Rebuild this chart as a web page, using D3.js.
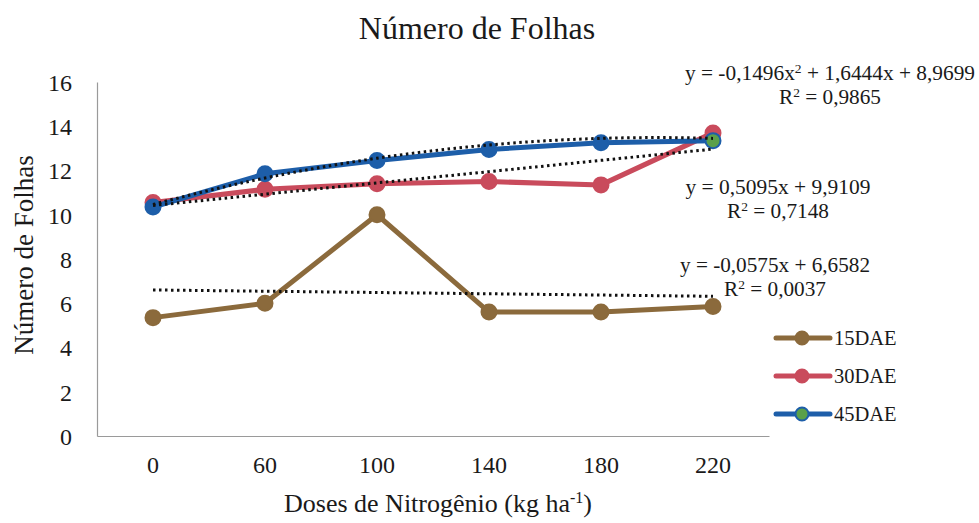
<!DOCTYPE html>
<html>
<head>
<meta charset="utf-8">
<script src="https://cdn.jsdelivr.net/npm/d3@7"></script>
<style>
  body { margin: 0; background: #fff; }
  svg text { font-family: "Liberation Serif", "DejaVu Serif", serif; fill: #1a1a1a; }
</style>
</head>
<body>
<svg width="979" height="523"></svg>
<script>
// doses (categories)
const doses = ['0', '60', '100', '140', '180', '220'];
const yTicks = [0, 2, 4, 6, 8, 10, 12, 14, 16];

// leaf counts
const dae15 = [5.35, 6.0, 10.0, 5.6, 5.6, 5.85];
const dae30 = [10.55, 11.15, 11.4, 11.5, 11.35, 13.7];
const dae45 = [10.35, 11.85, 12.45, 12.95, 13.25, 13.35];

// trendline coefficients (x = 1..6), [a2, a1, a0]
const trend15 = [0, -0.0575, 6.6582];
const trend30 = [0, 0.5095, 9.9109];
const trend45 = [-0.1496, 1.6444, 8.9699];

const WIDTH = 979, HEIGHT = 523;
const plotLeft = 97, plotRight = 769, plotTop = 82, plotBottom = 436;

const svg = d3.select('svg');

const xScale = d3.scaleBand().domain(doses).range([plotLeft, plotRight]);
const yScale = d3.scaleLinear().domain([0, 16]).range([plotBottom, plotTop]);
const xPos = function (d) { return xScale(d) + xScale.bandwidth() / 2; };

// axes
const bottomAxis = d3.axisBottom(xScale).tickSize(0).tickPadding(20);
const gx = svg.append('g').attr('transform', 'translate(0,' + plotBottom + ')').call(bottomAxis);
gx.select('.domain').attr('stroke', '#9a9a9a').attr('stroke-width', 1.2);
gx.selectAll('text').style('font-size', '24px').style('font-family', '"Liberation Serif", serif').attr('fill', '#1a1a1a');

const leftAxis = d3.axisLeft(yScale).tickValues(yTicks).tickSize(0).tickPadding(25);
const gy = svg.append('g').attr('transform', 'translate(' + plotLeft + ',0)').call(leftAxis);
gy.select('.domain').attr('stroke', '#9a9a9a').attr('stroke-width', 1.2);
gy.selectAll('text').style('font-size', '24px').style('font-family', '"Liberation Serif", serif').attr('fill', '#1a1a1a')
  .attr('dy', '0.35em');

// title + axis titles
svg.append('text').attr('x', 477).attr('y', 39).attr('text-anchor', 'middle')
  .style('font-size', '32px').text('Número de Folhas');

svg.append('text').attr('transform', 'translate(33,' + 255 + ') rotate(-90)')
  .attr('text-anchor', 'middle').style('font-size', '27px').text('Número de Folhas');

const xt = svg.append('text').attr('x', 438).attr('y', 512).attr('text-anchor', 'middle')
  .style('font-size', '26px');
xt.append('tspan').text('Doses de Nitrogênio (kg ha');
xt.append('tspan').attr('dy', -9).style('font-size', '16px').text('-1');
xt.append('tspan').attr('dy', 9).text(')');

// series
const series = [
  { name: '15DAE', values: dae15, color: '#8b6a3c', fill: '#8b6a3c', trend: trend15 },
  { name: '30DAE', values: dae30, color: '#c94b5c', fill: '#c94b5c', trend: trend30 },
  { name: '45DAE', values: dae45, color: '#1d5ea9', fill: '#1d5ea9', trend: trend45 }
];

const line = d3.line()
  .x(function (d, i) { return xPos(doses[i]); })
  .y(function (d) { return yScale(d); });

series.forEach(function (s) {
  svg.append('path').datum(s.values)
    .attr('d', line).attr('fill', 'none')
    .attr('stroke', s.color).attr('stroke-width', 5).attr('stroke-linejoin', 'round');
  svg.selectAll(null).data(s.values).enter().append('circle')
    .attr('cx', function (d, i) { return xPos(doses[i]); })
    .attr('cy', function (d) { return yScale(d); })
    .attr('r', 7.5)
    .attr('fill', function (d, i) { return (s.name === '45DAE' && i === 5) ? '#5aa04a' : s.fill; })
    .attr('stroke', s.color).attr('stroke-width', 2);
});

// trendlines (dotted)
const xNum = d3.scaleLinear().domain([1, 6]).range([xPos(doses[0]), xPos(doses[5])]);
const trendLine = d3.line().x(function (d) { return xNum(d[0]); }).y(function (d) { return yScale(d[1]); });
series.forEach(function (s) {
  const pts = d3.range(1, 6.01, 0.1).map(function (x) {
    return [x, s.trend[0] * x * x + s.trend[1] * x + s.trend[2]];
  });
  svg.append('path').datum(pts).attr('d', trendLine).attr('fill', 'none')
    .attr('stroke', '#111').attr('stroke-width', 3).attr('stroke-dasharray', '2.5,3.5');
});

// equations
const eqs = [
  { x: 830, y: 80, len: [290, 102], lines: [['y = -0,1496x', '2', ' + 1,6444x + 8,9699'], ['R', '2', ' = 0,9865']] },
  { x: 778, y: 194, len: [185, 102], lines: [['y = 0,5095x + 9,9109'], ['R', '2', ' = 0,7148']] },
  { x: 775, y: 272, len: [190, 102], lines: [['y = -0,0575x + 6,6582'], ['R', '2', ' = 0,0037']] }
];
eqs.forEach(function (e) {
  e.lines.forEach(function (parts, k) {
    const t = svg.append('text').attr('x', e.x).attr('y', e.y + k * 24)
      .attr('text-anchor', 'middle').style('font-size', '20.5px')
      .attr('textLength', e.len[k]).attr('lengthAdjust', 'spacingAndGlyphs');
    parts.forEach(function (p, j) {
      if (j === 1) t.append('tspan').attr('dy', -7).style('font-size', '13px').text(p);
      else if (j === 2) t.append('tspan').attr('dy', 7).text(p);
      else t.append('tspan').text(p);
    });
  });
});

// legend
const lg = svg.append('g');
series.forEach(function (s, i) {
  const y = 338 + i * 38;
  lg.append('line').attr('x1', 776).attr('x2', 830).attr('y1', y).attr('y2', y)
    .attr('stroke', s.color).attr('stroke-width', 5).attr('stroke-linecap', 'round');
  lg.append('circle').attr('cx', 802).attr('cy', y).attr('r', 6.5)
    .attr('fill', s.name === '45DAE' ? '#5aa04a' : s.fill).attr('stroke', s.color).attr('stroke-width', 2);
  lg.append('text').attr('x', 834).attr('y', y).attr('dy', '0.35em')
    .style('font-size', '20.5px').text(s.name);
});
</script>
</body>
</html>
